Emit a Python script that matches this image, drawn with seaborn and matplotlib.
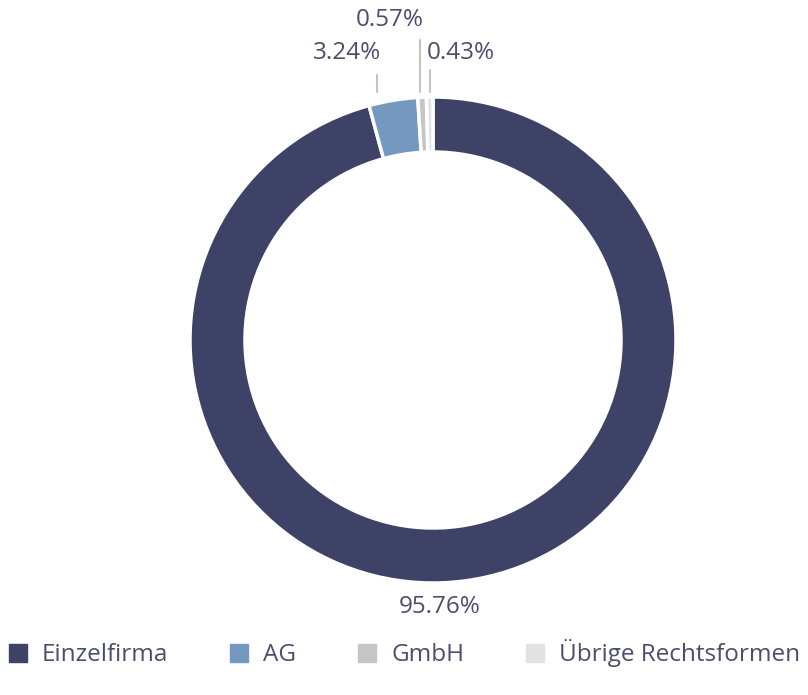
import matplotlib
matplotlib.use("Agg")
import matplotlib.pyplot as plt
from matplotlib.lines import Line2D
import numpy as np
import seaborn as sns

# data
categories = ["Einzelfirma", "AG", "GmbH", "Übrige Rechtsformen"]
shares = [95.76, 3.24, 0.57, 0.43]
colors = ["#3e4266", "#7598c0", "#c6c6c6", "#e2e2e2"]

text_color = "#4a4e6c"
line_color = "#c4c4c4"

sns.set_style("white")
plt.rcParams["font.family"] = ["Open Sans", "DejaVu Sans"]

fig = plt.figure(figsize=(8.08, 6.95), dpi=100)
ax = fig.add_axes([0, 0, 1, 1])

R = 243
W = 55
wedges, _ = ax.pie(shares, colors=colors, radius=R, startangle=90, counterclock=False,
                   wedgeprops=dict(width=W, edgecolor="white", linewidth=2.5))

# 1 data unit = 1 pixel, donut centre at (433, 340) from top-left
ax.set_xlim(-433, 808 - 433)
ax.set_ylim(-(695 - 340), 340)
ax.set_aspect("equal")
ax.axis("off")

# big slice label below the ring
ax.text(7, -267, f"{shares[0]:.2f}%", ha="center", va="center",
        fontsize=17.5, color=text_color)

# small slices: leader line + label (line x, line top, text x, text y, align)
small_layout = [
    (-56, 265, -52, 287, "right"),
    (-13, 300, -9, 320, "right"),
    (-3, 270, -6, 287, "left"),
]
for i, (lx, ltop, tx, ty, ha) in zip(range(1, 4), small_layout):
    ax.plot([lx, lx], [R + 5, ltop], color=line_color, lw=1.5)
    ax.text(tx, ty, f"{shares[i]:.2f}%", ha=ha, va="center",
            fontsize=17.5, color=text_color)

handles = [Line2D([0], [0], marker="s", linestyle="", markersize=13.5,
                  markerfacecolor=c, markeredgecolor=c) for c in colors]
leg = fig.legend(handles, categories, loc="center", bbox_to_anchor=(0.5, 0.06),
                 ncol=4, frameon=False, fontsize=17.5, handlelength=0.8,
                 handletextpad=0.6, columnspacing=2.5, labelcolor=text_color)

fig.savefig("out.png", dpi=100)
